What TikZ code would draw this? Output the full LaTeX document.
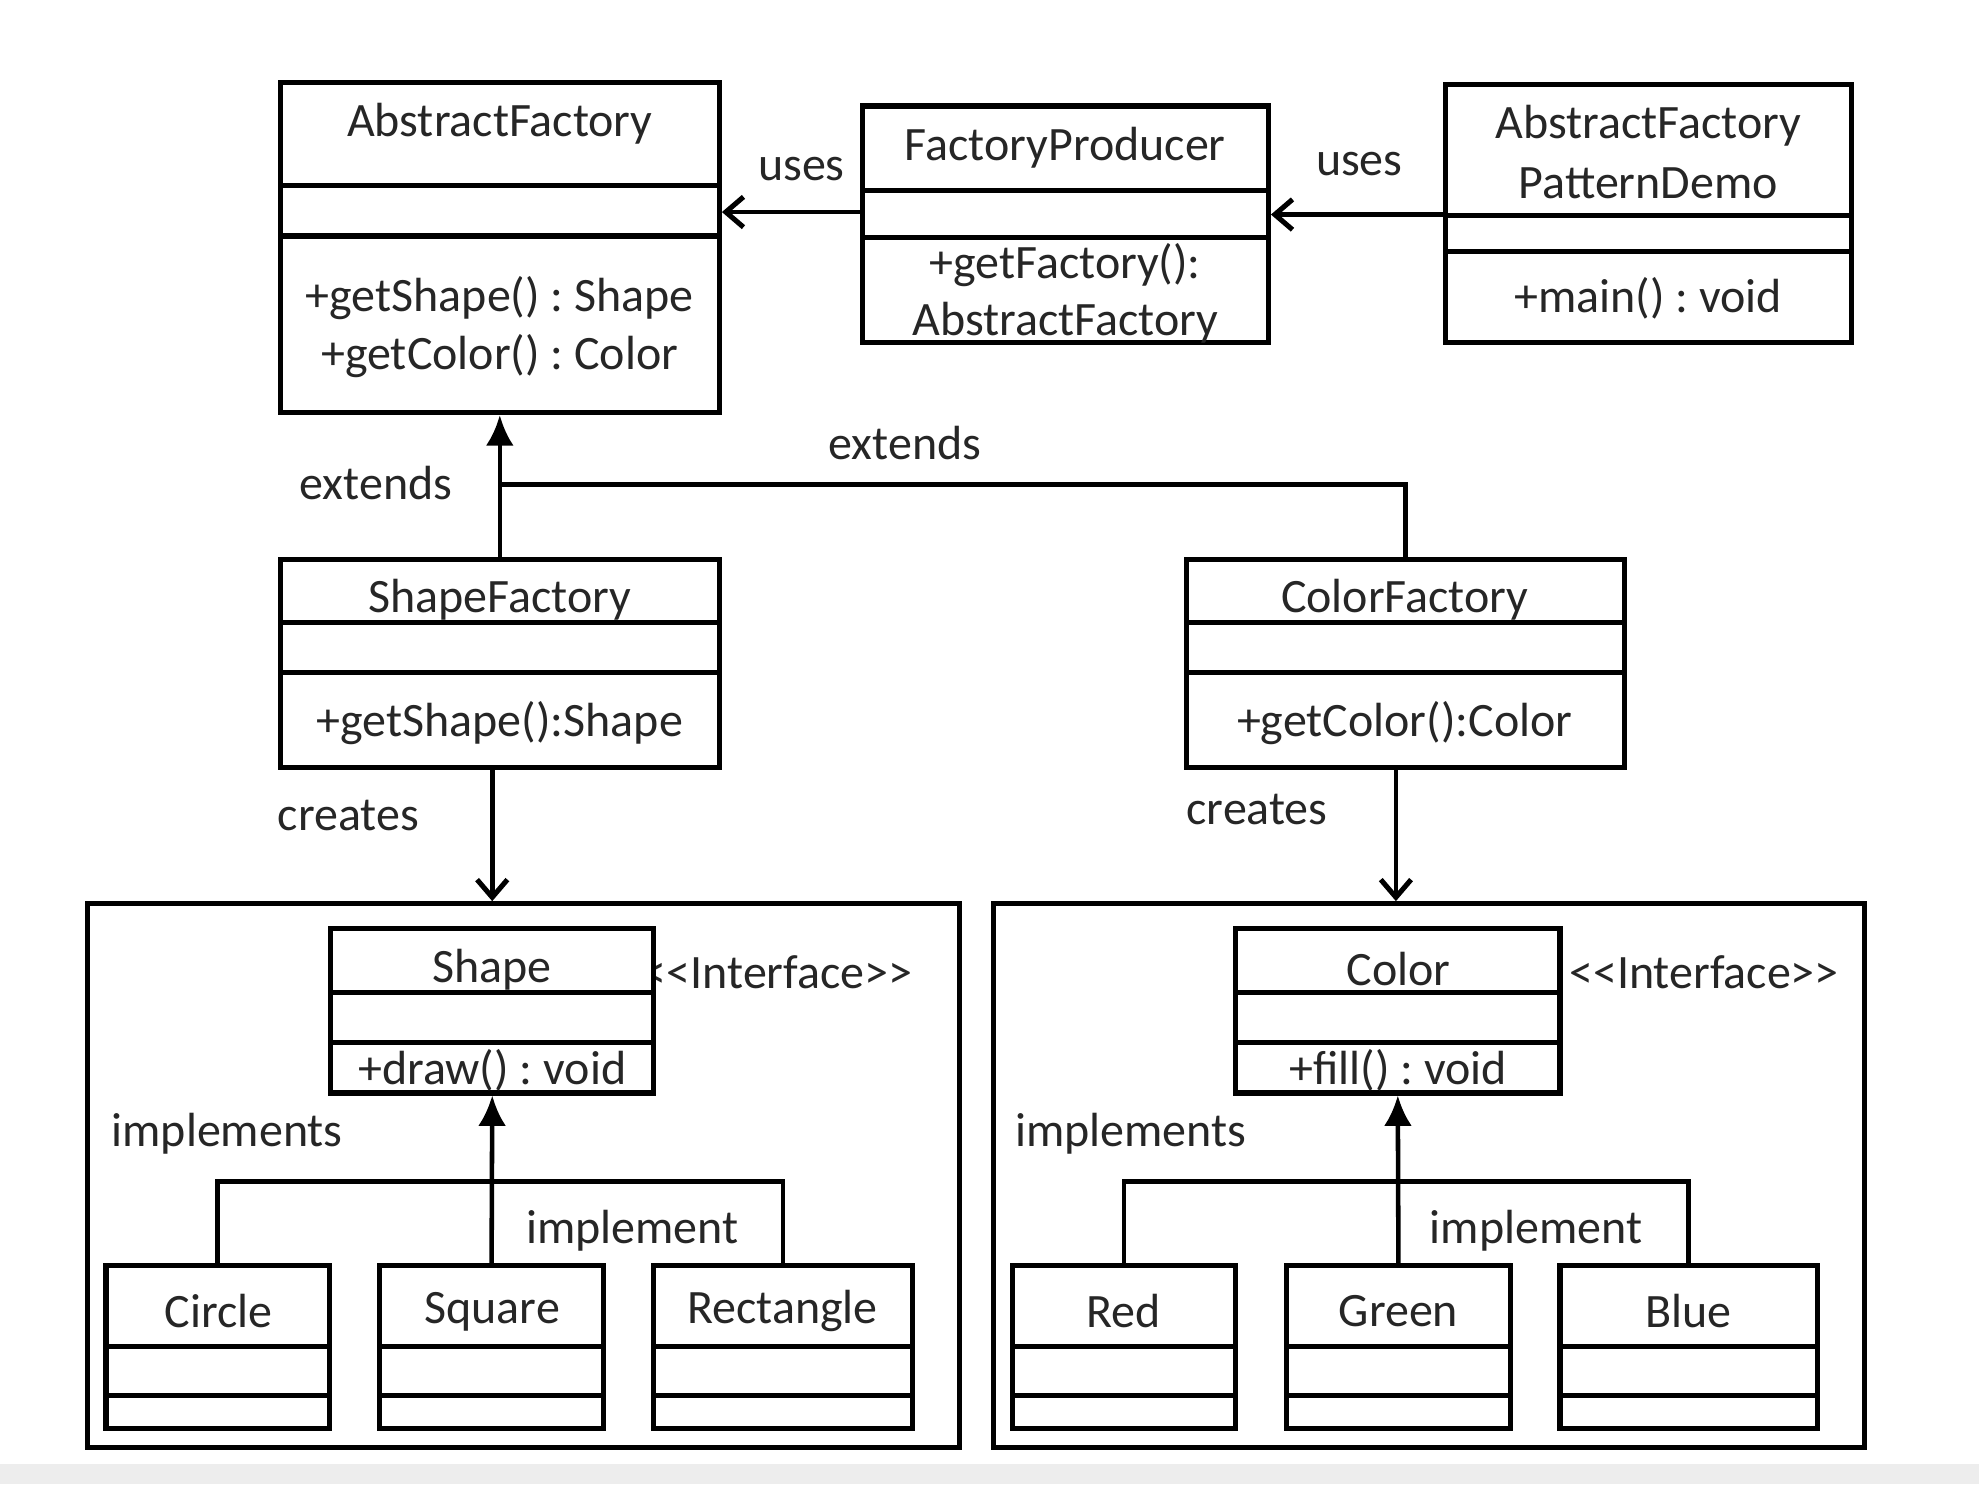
\documentclass[tikz,border=0pt]{standalone}
\usepackage{fontspec}
\setmainfont{Carlito}
\usetikzlibrary{fit,arrows.meta}
\tikzset{
  box/.style={draw=black, fill=white, line width=2pt, inner sep=0pt},
  frame/.style={draw=black, line width=2pt, inner sep=0pt},
  boxline/.style={draw=black, line width=2pt},
  txt/.style={font=\fontsize{19}{22}\selectfont\frenchspacing, text=black!85, inner sep=0pt},
  usesarr/.style={draw=black, line width=1.8pt, -{Straight Barb[length=7pt,width=12pt,line width=2pt]}},
  genarr/.style={draw=black, line width=1.8pt, -{Latex[length=12pt,width=11pt]}},
  plainline/.style={draw=black, line width=1.8pt},
}
\newcommand\umlbox[7]{%
  \node[box, fit={(#2,#3)(#4,#5)}] (#1) {};
  \draw[boxline] (#2,#6) -- (#4,#6);
  \draw[boxline] (#2,#7) -- (#4,#7);
}
\begin{document}
\begin{tikzpicture}[x=0.5pt,y=-0.5pt]
\useasboundingbox (0,0) rectangle (1568,1176);
\fill[white] (0,0) rectangle (1568,1176);
\fill[black!7] (0,1160) rectangle (1568,1176);

% frames
\node[frame, fit={(69,716)(760,1147)}] (lframe) {};
\node[frame, fit={(787,716)(1477,1147)}] (rframe) {};

% interface labels (drawn before the boxes)
\node[txt, anchor=west] (lint) at (509,770) {{<}{<}Interface{>}{>}};
\node[txt, anchor=west] (rint) at (1243,770) {{<}{<}Interface{>}{>}};

% class boxes
\umlbox{af}{222}{65}{570}{327}{147}{187}
\umlbox{fp}{683}{84}{1005}{271}{151}{188}
\umlbox{demo}{1145}{67}{1467}{271}{171}{199}
\umlbox{sf}{222}{443}{570}{608}{493}{533}
\umlbox{cf}{940}{443}{1287}{608}{493}{533}
\umlbox{shape}{262}{736}{518}{866}{786}{826}
\umlbox{color}{979}{736}{1236}{866}{786}{826}
\umlbox{circle}{84}{1003}{261}{1132}{1067}{1106}
\umlbox{square}{301}{1003}{478}{1132}{1067}{1106}
\umlbox{rect}{518}{1003}{723}{1132}{1067}{1106}
\umlbox{red}{802}{1003}{979}{1132}{1067}{1106}
\umlbox{green}{1019}{1003}{1197}{1132}{1067}{1106}
\umlbox{blue}{1236}{1003}{1440}{1132}{1067}{1106}

% texts in boxes
\node[txt] (af-t) at (396,98) {AbstractFactory};
\node[txt] (af-m1) at (396,236) {+getShape() : Shape};
\node[txt] (af-m2) at (396,282) {+getColor() : Color};
\node[txt] (fp-t) at (844,117) {FactoryProducer};
\node[txt] (fp-m1) at (844,210) {+getFactory():};
\node[txt] (fp-m2) at (844,256) {AbstractFactory};
\node[txt] (demo-t1) at (1306,100) {AbstractFactory};
\node[txt] (demo-t2) at (1306,145) {PatternDemo};
\node[txt] (demo-m) at (1306,236) {+main() : void};
\node[txt] (sf-t) at (396,475) {ShapeFactory};
\node[txt] (sf-m) at (396,573) {+getShape():Shape};
\node[txt] (cf-t) at (1113,475) {ColorFactory};
\node[txt] (cf-m) at (1113,573) {+getColor():Color};
\node[txt] (shape-t) at (390,768) {Shape};
\node[txt] (shape-m) at (390,848) {+draw() : void};
\node[txt] (color-t) at (1108,768) {Color};
\node[txt] (color-m) at (1108,848) {+fill() : void};
\node[txt] (circle-t) at (173,1039) {Circle};
\node[txt] (square-t) at (390,1039) {Square};
\node[txt] (rect-t) at (620,1039) {Rectangle};
\node[txt] (red-t) at (890,1039) {Red};
\node[txt] (green-t) at (1108,1039) {Green};
\node[txt] (blue-t) at (1338,1039) {Blue};

% connector labels
\node[txt] (l-uses1) at (635,134) {uses};
\node[txt] (l-uses2) at (1077,130) {uses};
\node[txt] (l-ext1) at (298,383) {extends};
\node[txt] (l-ext2) at (717,351) {extends};
\node[txt] (l-cr1) at (276,646) {creates};
\node[txt] (l-cr2) at (996,641) {creates};
\node[txt] (l-impls1) at (180,898) {implements};
\node[txt] (l-impl1) at (501,975) {implement};
\node[txt] (l-impls2) at (896,898) {implements};
\node[txt] (l-impl2) at (1217,975) {implement};

% helper coordinates
\coordinate (u1) at (0,168);
\coordinate (u2) at (0,170);
\coordinate (ej) at (396,384);
\coordinate (c1) at (390,0);
\coordinate (c2) at (1106,0);
\coordinate (b1) at (0,936);

% connectors
\draw[usesarr] (fp.west |- u1) -- (af.east |- u1);
\draw[usesarr] (demo.west |- u2) -- (fp.east |- u2);
\draw[genarr] (sf.north) -- (af.south);
\draw[plainline] (cf.north) -- (cf.north |- ej) -- (ej);
\draw[usesarr] (sf.south -| c1) -- (lframe.north -| c1);
\draw[usesarr] (cf.south -| c2) -- (rframe.north -| c2);
\draw[genarr] (square.north) -- (shape.south);
\draw[plainline] (circle.north) -- (circle.north |- b1) -- (rect.north |- b1) -- (rect.north);
\draw[genarr] (green.north) -- (color.south);
\draw[plainline] (red.north) -- (red.north |- b1) -- (blue.north |- b1) -- (blue.north);
\end{tikzpicture}
\end{document}
